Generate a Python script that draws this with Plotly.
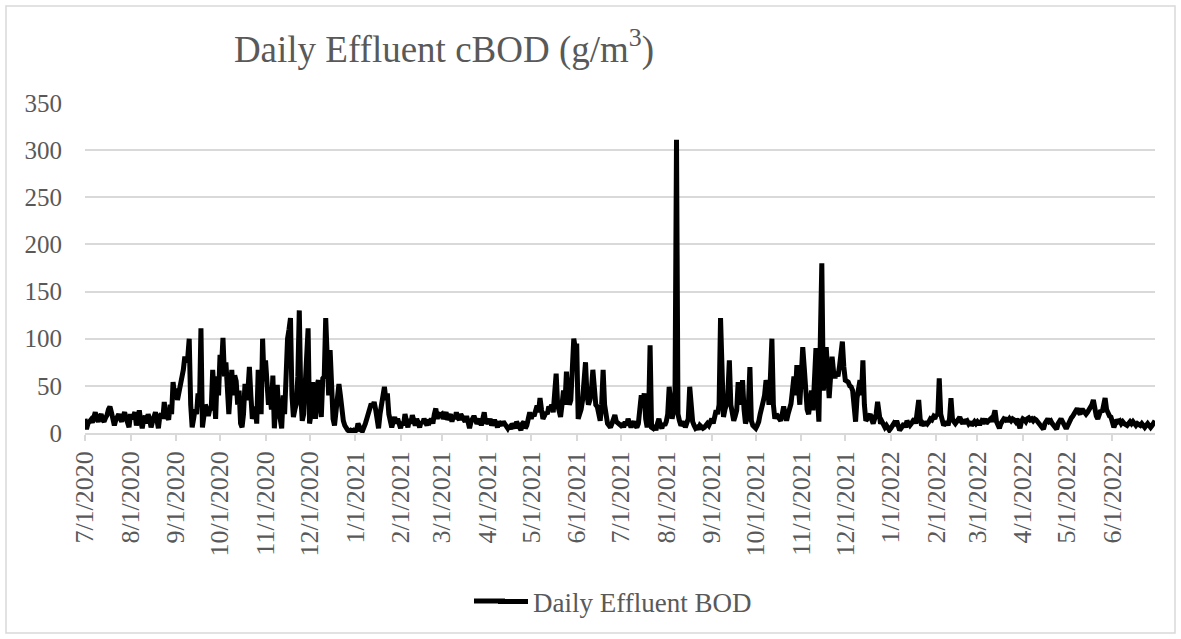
import pandas as pd
import plotly.graph_objects as go

# Daily effluent cBOD (g/m3), one list per month, 7/1/2020 - 6/30/2022
jul_2020 = [15, 4, 10, 12, 14, 11, 18, 22, 15, 12, 17, 20, 14, 12, 16, 19, 25, 28, 22, 10, 8, 14, 18, 20, 15, 12, 18, 22, 16, 10, 6]
aug_2020 = [20, 15, 18, 22, 8, 20, 24, 12, 5, 15, 18, 10, 20, 15, 6, 12, 18, 22, 14, 5, 18, 20, 15, 33, 15, 18, 14, 30, 20, 54, 40]
sep_2020 = [47, 35, 42, 55, 60, 67, 81, 75, 80, 100, 30, 6, 15, 25, 20, 42, 30, 111, 6, 15, 30, 26, 18, 25, 26, 67, 45, 15, 60, 40]
oct_2020 = [83, 70, 101, 60, 75, 28, 20, 45, 67, 40, 61, 55, 30, 45, 10, 6, 20, 52, 35, 45, 70, 40, 15, 20, 28, 10, 67, 40, 20, 100, 55]
nov_2020 = [77, 50, 30, 42, 25, 61, 5, 30, 51, 20, 15, 5, 40, 20, 88, 100, 110, 122, 40, 17, 25, 31, 60, 130, 40, 13, 20, 45, 80, 111]
dec_2020 = [10, 20, 54, 40, 15, 50, 56, 30, 17, 58, 60, 122, 90, 40, 88, 30, 15, 8, 20, 35, 52, 40, 20, 13, 8, 5, 3, 2, 3, 2, 3]
jan_2021 = [2, 3, 10, 5, 3, 2, 5, 10, 15, 20, 25, 31, 28, 33, 25, 10, 5, 20, 31, 40, 49, 35, 42, 20, 10, 6, 12, 17, 10, 15, 10]
feb_2021 = [5, 12, 8, 20, 12, 6, 15, 10, 19, 12, 8, 15, 10, 6, 12, 10, 15, 12, 8, 14, 12, 15, 10, 20, 26, 15, 20, 19]
mar_2021 = [20, 15, 18, 22, 14, 16, 20, 12, 18, 15, 22, 16, 14, 20, 18, 15, 12, 18, 10, 5, 12, 15, 18, 14, 10, 12, 15, 8, 18, 22, 10]
apr_2021 = [12, 10, 15, 8, 12, 14, 10, 6, 12, 10, 8, 12, 10, 6, 5, 8, 4, 10, 6, 5, 12, 8, 5, 3, 10, 12, 5, 8, 15, 22]
may_2021 = [15, 20, 18, 25, 29, 22, 37, 25, 15, 18, 22, 20, 28, 25, 30, 22, 40, 63, 30, 25, 17, 30, 45, 30, 65, 40, 30, 35, 60, 100, 90]
jun_2021 = [95, 15, 20, 25, 35, 60, 75, 40, 30, 35, 45, 67, 40, 30, 28, 20, 13, 30, 67, 30, 15, 10, 8, 6, 10, 15, 19, 12, 10, 8]
jul_2021 = [8, 10, 6, 12, 8, 15, 10, 6, 10, 12, 8, 6, 10, 35, 40, 30, 42, 15, 6, 20, 93, 6, 5, 8, 3, 10, 15, 8, 5, 10, 8]
aug_2021 = [12, 20, 49, 30, 15, 24, 45, 311, 20, 13, 8, 10, 12, 6, 10, 15, 49, 20, 12, 8, 5, 6, 4, 8, 6, 5, 6, 8, 10, 8, 12]
sep_2021 = [15, 10, 18, 24, 20, 30, 122, 40, 17, 25, 30, 42, 77, 30, 20, 13, 18, 24, 54, 30, 40, 56, 25, 10, 15, 30, 70, 13, 8, 6]
oct_2021 = [5, 8, 12, 20, 25, 33, 40, 56, 50, 30, 60, 100, 30, 15, 20, 18, 15, 13, 20, 28, 20, 13, 20, 25, 31, 45, 60, 40, 72, 50, 30]
nov_2021 = [60, 91, 70, 40, 25, 20, 30, 45, 24, 50, 90, 40, 12, 100, 180, 45, 60, 91, 70, 37, 60, 81, 65, 58, 65, 60, 70, 80, 97, 70]
dec_2021 = [56, 55, 54, 50, 49, 45, 30, 12, 37, 45, 56, 40, 77, 30, 13, 15, 18, 20, 14, 10, 15, 20, 33, 15, 10, 12, 8, 6, 8, 5, 3]
jan_2022 = [5, 8, 10, 8, 13, 8, 3, 5, 8, 10, 6, 13, 10, 8, 10, 12, 15, 10, 20, 35, 15, 8, 10, 8, 12, 10, 12, 15, 14, 17, 15]
feb_2022 = [20, 18, 58, 20, 10, 8, 10, 12, 8, 15, 37, 15, 12, 10, 12, 15, 17, 12, 10, 14, 12, 13, 10, 12, 8, 10, 12, 10]
mar_2022 = [12, 10, 10, 13, 12, 15, 10, 12, 14, 15, 12, 18, 24, 12, 8, 5, 10, 12, 15, 14, 16, 12, 15, 13, 15, 14, 12, 15, 10, 5, 12]
apr_2022 = [15, 14, 12, 15, 16, 14, 15, 13, 15, 14, 12, 10, 8, 6, 4, 10, 14, 15, 12, 13, 10, 8, 6, 4, 10, 14, 15, 12, 8, 6]
may_2022 = [6, 10, 14, 16, 18, 20, 24, 26, 22, 20, 24, 24, 22, 20, 22, 24, 28, 30, 35, 22, 18, 15, 20, 24, 22, 30, 37, 25, 20, 18, 17]
jun_2022 = [12, 6, 10, 14, 12, 13, 10, 12, 10, 8, 8, 10, 12, 10, 12, 10, 8, 10, 9, 8, 10, 8, 6, 8, 10, 8, 6, 8, 10, 13]

months = [jul_2020, aug_2020, sep_2020, oct_2020, nov_2020, dec_2020,
          jan_2021, feb_2021, mar_2021, apr_2021, may_2021, jun_2021,
          jul_2021, aug_2021, sep_2021, oct_2021, nov_2021, dec_2021,
          jan_2022, feb_2022, mar_2022, apr_2022, may_2022, jun_2022]
values = [v for m in months for v in m]
dates = pd.date_range("2020-07-01", periods=len(values), freq="D")

tick_dates = pd.date_range("2020-07-01", "2022-06-01", freq="MS")
tick_labels = [f"{d.month}/1/{d.year}" for d in tick_dates]

FONT = "Liberation Serif"
GRAY = "#595959"
GRID = "#d9d9d9"

W, H = 1181, 639
L, R, T, B = 85, 26, 103, 206
pw, ph = W - L - R, H - T - B

def px_x(p):
    return (p - L) / pw

def px_y(p):
    return (H - B - p) / ph

fig = go.Figure()
fig.add_trace(go.Scatter(
    x=dates, y=values, mode="lines", name="Daily Effluent BOD",
    line=dict(color="black", width=5),
))

LEG_Y = 602

fig.update_layout(
    width=W, height=H,
    margin=dict(l=L, r=R, t=T, b=B),
    paper_bgcolor="white", plot_bgcolor="white",
    font=dict(family=FONT, color=GRAY, size=25),
    title=dict(text="Daily Effluent cBOD (g/m<sup>3</sup>)", x=444 / W, xanchor="center",
               xref="container", y=1 - 49 / H, yanchor="middle", yref="container",
               font=dict(family=FONT, size=37, color=GRAY)),
    showlegend=True,
    legend=dict(orientation="h", x=px_x(493), xanchor="left", y=px_y(LEG_Y), yanchor="middle",
                font=dict(family=FONT, size=27, color=GRAY), bgcolor="rgba(0,0,0,0)"),
    xaxis=dict(
        type="date", range=[dates[0], dates[-1]],
        tickvals=tick_dates, ticktext=tick_labels, tickangle=-90,
        showgrid=False, showline=True, linecolor=GRID, linewidth=1.5,
        ticks="outside", ticklen=6, tickcolor=GRID, tickwidth=1.5,
        tickfont=dict(family=FONT, size=26, color=GRAY),
    ),
    yaxis=dict(
        range=[0, 350], tickvals=list(range(0, 351, 50)),
        showgrid=True, gridcolor=GRID, gridwidth=1.5, zeroline=False,
        showline=False, ticks="", ticklabelstandoff=22,
        tickfont=dict(family=FONT, size=25, color=GRAY),
    ),
    shapes=[
        dict(type="rect", xref="paper", yref="paper",
             x0=px_x(6), x1=px_x(1175), y0=px_y(633), y1=px_y(6),
             line=dict(color=GRID, width=1.5), layer="below"),
        # lengthen the legend's line sample to match the reference
        dict(type="line", xref="paper", yref="paper",
             x0=px_x(474), x1=px_x(505), y0=px_y(LEG_Y - 1), y1=px_y(LEG_Y - 1),
             line=dict(color="black", width=5)),
    ],
)

fig.write_html("out.html", config={"displayModeBar": False},
               post_script="document.body.style.margin='0';")
